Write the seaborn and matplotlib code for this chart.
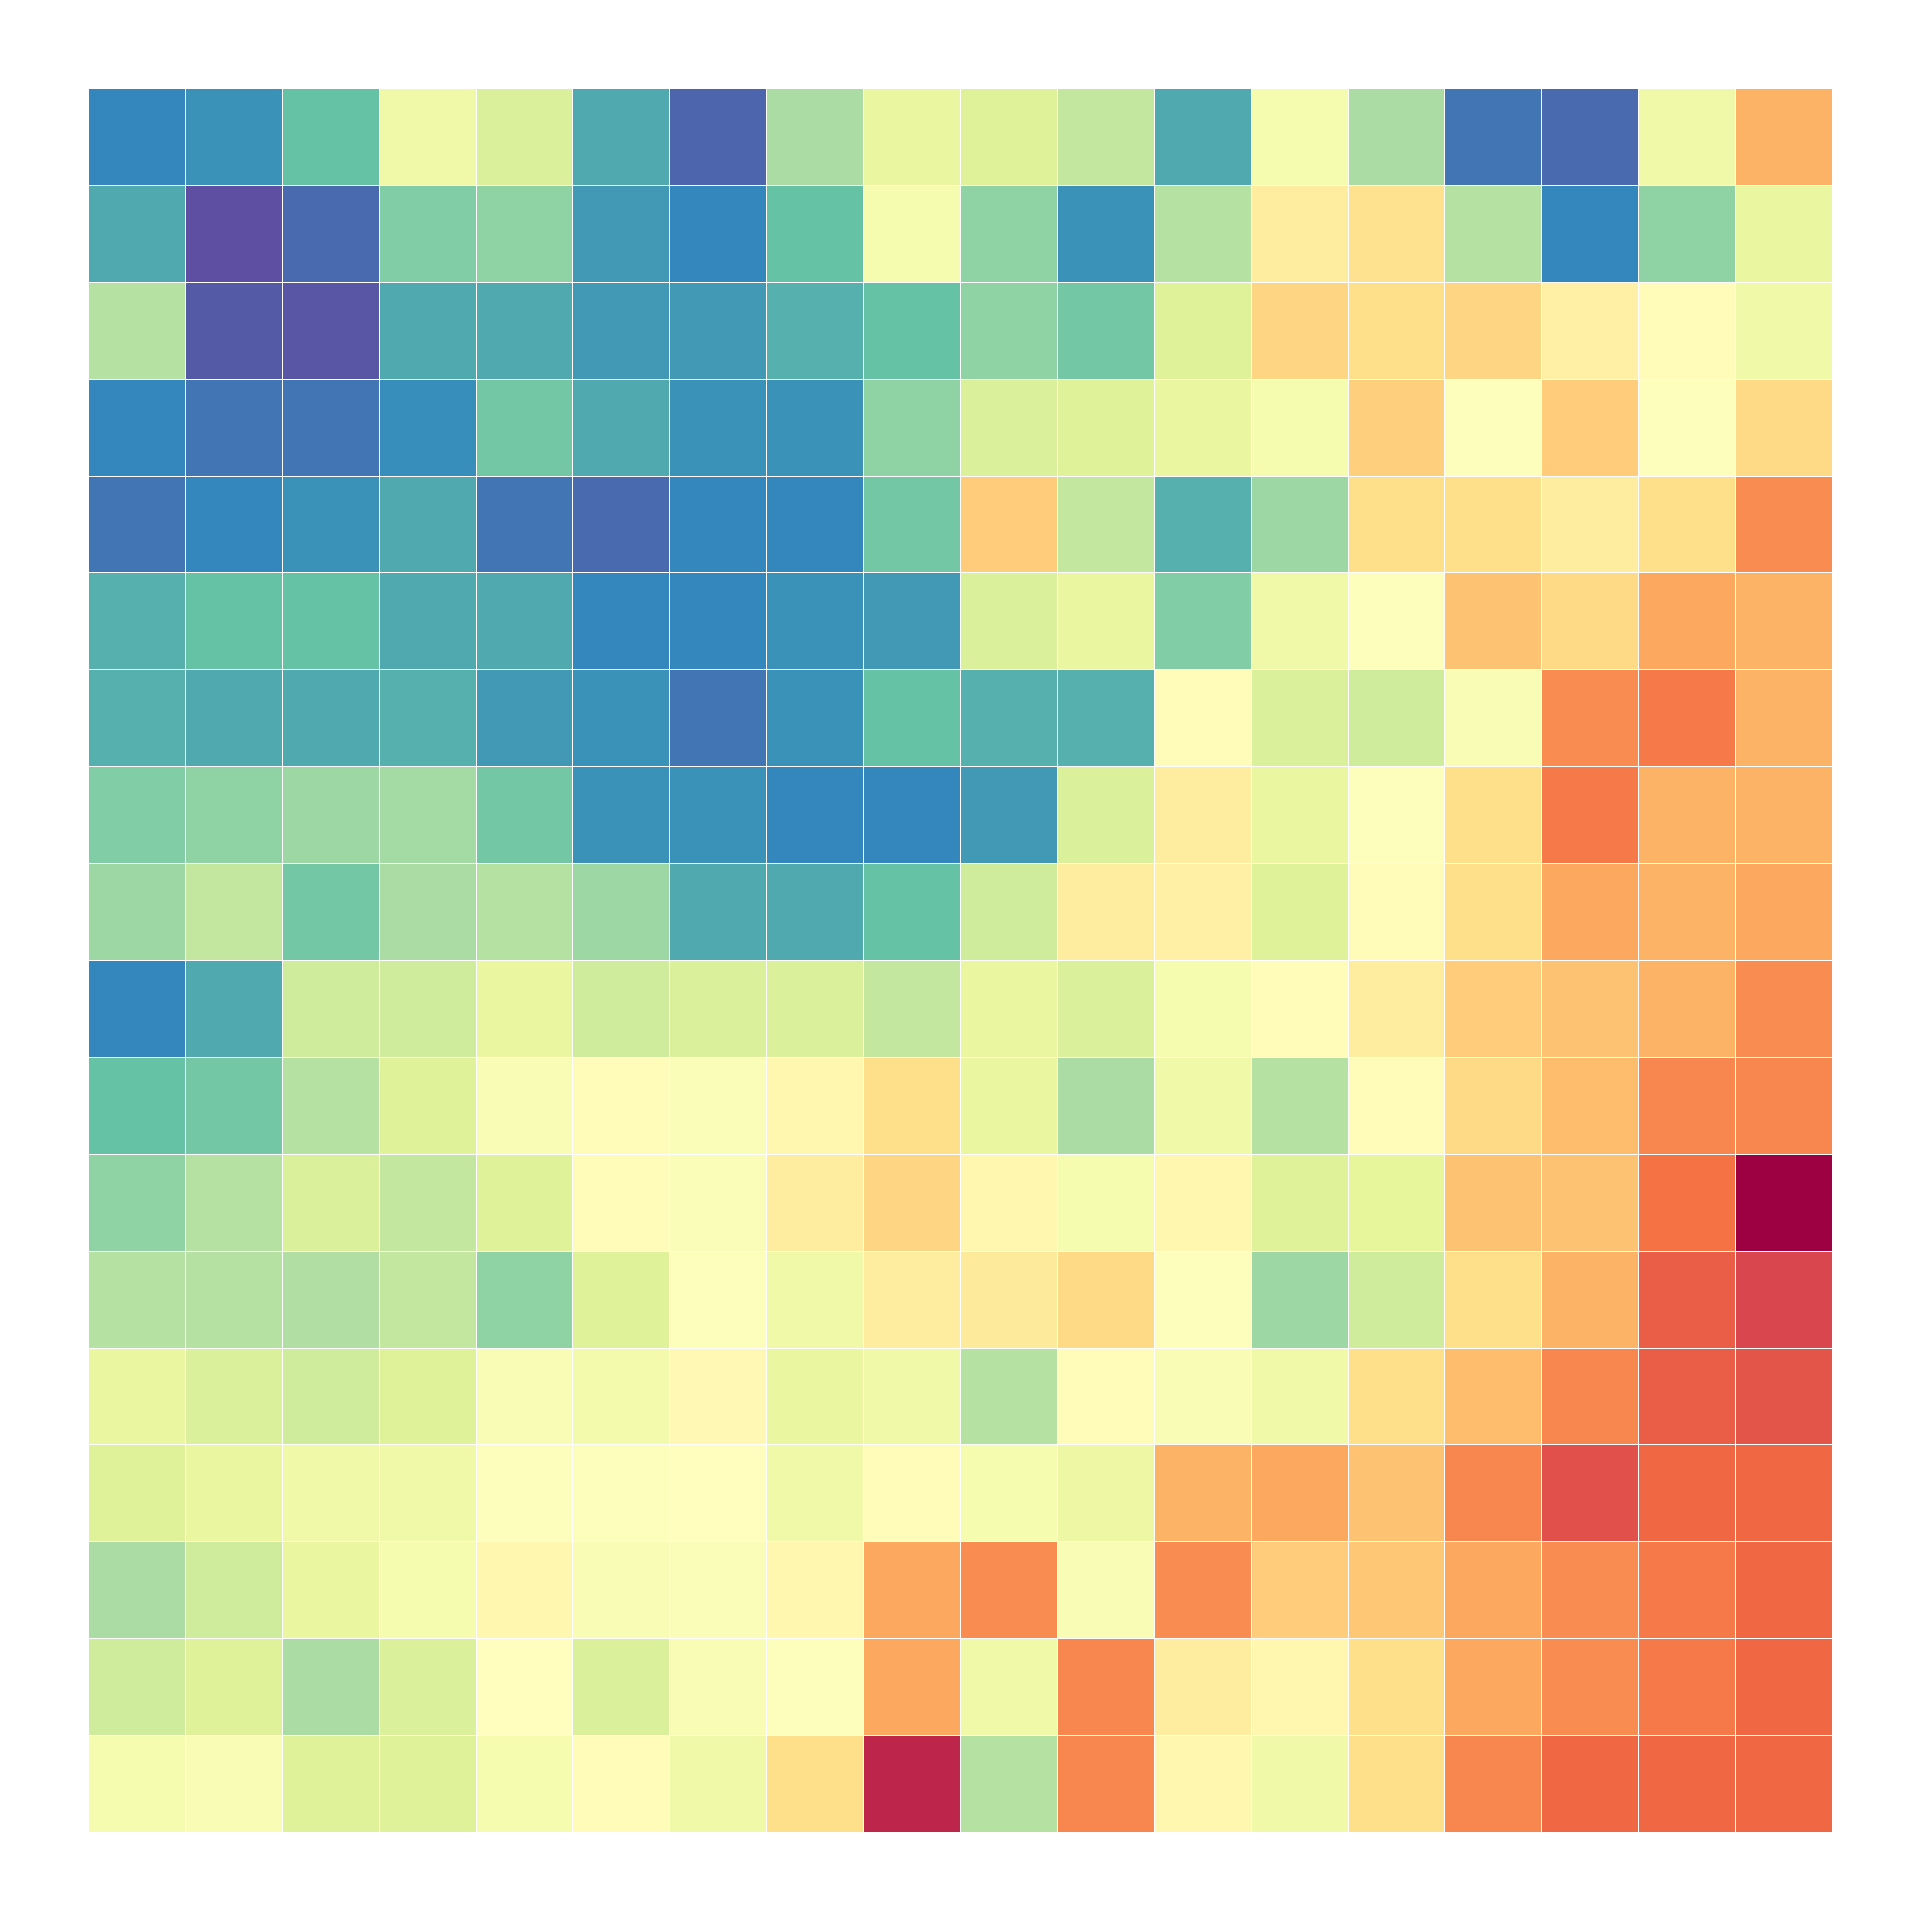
import matplotlib
matplotlib.use("Agg")
import matplotlib.pyplot as plt
import seaborn as sns
import numpy as np

row00 = [0.10, 0.12, 0.20, 0.44, 0.38, 0.16, 0.04, 0.30, 0.42, 0.39, 0.34, 0.16, 0.46, 0.30, 0.07, 0.05, 0.44, 0.69]
row01 = [0.16, 0.00, 0.05, 0.24, 0.26, 0.13, 0.10, 0.20, 0.46, 0.26, 0.12, 0.32, 0.56, 0.59, 0.32, 0.10, 0.26, 0.42]
row02 = [0.32, 0.02, 0.015, 0.16, 0.16, 0.13, 0.13, 0.17, 0.20, 0.26, 0.22, 0.39, 0.62, 0.60, 0.62, 0.55, 0.51, 0.44]
row03 = [0.10, 0.07, 0.07, 0.11, 0.22, 0.16, 0.12, 0.12, 0.26, 0.38, 0.39, 0.42, 0.46, 0.63, 0.49, 0.64, 0.49, 0.61]
row04 = [0.07, 0.10, 0.12, 0.16, 0.07, 0.05, 0.10, 0.10, 0.22, 0.64, 0.34, 0.17, 0.28, 0.60, 0.60, 0.56, 0.60, 0.75]
row05 = [0.17, 0.20, 0.20, 0.16, 0.16, 0.10, 0.10, 0.12, 0.13, 0.38, 0.42, 0.24, 0.44, 0.49, 0.66, 0.61, 0.71, 0.69]
row06 = [0.17, 0.16, 0.16, 0.17, 0.13, 0.12, 0.07, 0.12, 0.20, 0.17, 0.17, 0.51, 0.38, 0.36, 0.47, 0.75, 0.78, 0.69]
row07 = [0.24, 0.26, 0.28, 0.29, 0.22, 0.12, 0.12, 0.10, 0.10, 0.13, 0.38, 0.56, 0.42, 0.49, 0.60, 0.78, 0.69, 0.69]
row08 = [0.28, 0.34, 0.22, 0.30, 0.32, 0.28, 0.16, 0.16, 0.20, 0.36, 0.56, 0.55, 0.39, 0.51, 0.60, 0.71, 0.69, 0.71]
row09 = [0.10, 0.16, 0.36, 0.36, 0.42, 0.36, 0.38, 0.38, 0.34, 0.42, 0.38, 0.46, 0.51, 0.56, 0.64, 0.66, 0.69, 0.75]
row10 = [0.20, 0.22, 0.32, 0.39, 0.47, 0.51, 0.48, 0.53, 0.60, 0.42, 0.30, 0.44, 0.32, 0.51, 0.61, 0.67, 0.76, 0.76]
row11 = [0.26, 0.32, 0.38, 0.34, 0.39, 0.51, 0.48, 0.56, 0.62, 0.53, 0.46, 0.53, 0.39, 0.41, 0.66, 0.66, 0.79, 1.00]
row12 = [0.32, 0.32, 0.31, 0.34, 0.26, 0.39, 0.49, 0.44, 0.56, 0.57, 0.61, 0.49, 0.28, 0.36, 0.60, 0.69, 0.83, 0.88]
row13 = [0.42, 0.38, 0.36, 0.39, 0.47, 0.45, 0.52, 0.42, 0.44, 0.32, 0.51, 0.47, 0.44, 0.60, 0.67, 0.76, 0.83, 0.85]
row14 = [0.39, 0.42, 0.44, 0.44, 0.49, 0.49, 0.50, 0.44, 0.51, 0.46, 0.43, 0.69, 0.71, 0.66, 0.76, 0.86, 0.81, 0.81]
row15 = [0.30, 0.36, 0.42, 0.46, 0.53, 0.47, 0.48, 0.53, 0.71, 0.75, 0.47, 0.75, 0.64, 0.65, 0.71, 0.75, 0.78, 0.81]
row16 = [0.36, 0.39, 0.30, 0.38, 0.50, 0.38, 0.47, 0.49, 0.71, 0.44, 0.76, 0.56, 0.53, 0.60, 0.71, 0.75, 0.78, 0.81]
row17 = [0.46, 0.47, 0.39, 0.39, 0.46, 0.51, 0.44, 0.60, 0.94, 0.32, 0.76, 0.53, 0.44, 0.60, 0.76, 0.81, 0.81, 0.81]

data = np.array([row00, row01, row02, row03, row04, row05, row06, row07, row08,
                 row09, row10, row11, row12, row13, row14, row15, row16, row17])

fig = plt.figure(figsize=(19.2, 19.2), dpi=100)
ax = fig.add_axes([88/1920, 88/1920, 1744/1920, 1744/1920])
sns.heatmap(data, cmap="Spectral_r", vmin=0, vmax=1, cbar=False,
            linewidths=0.6, linecolor="white", square=True, ax=ax,
            xticklabels=False, yticklabels=False)
ax.set_xlabel("")
ax.set_ylabel("")
fig.savefig("out.png", dpi=100, facecolor="white")
